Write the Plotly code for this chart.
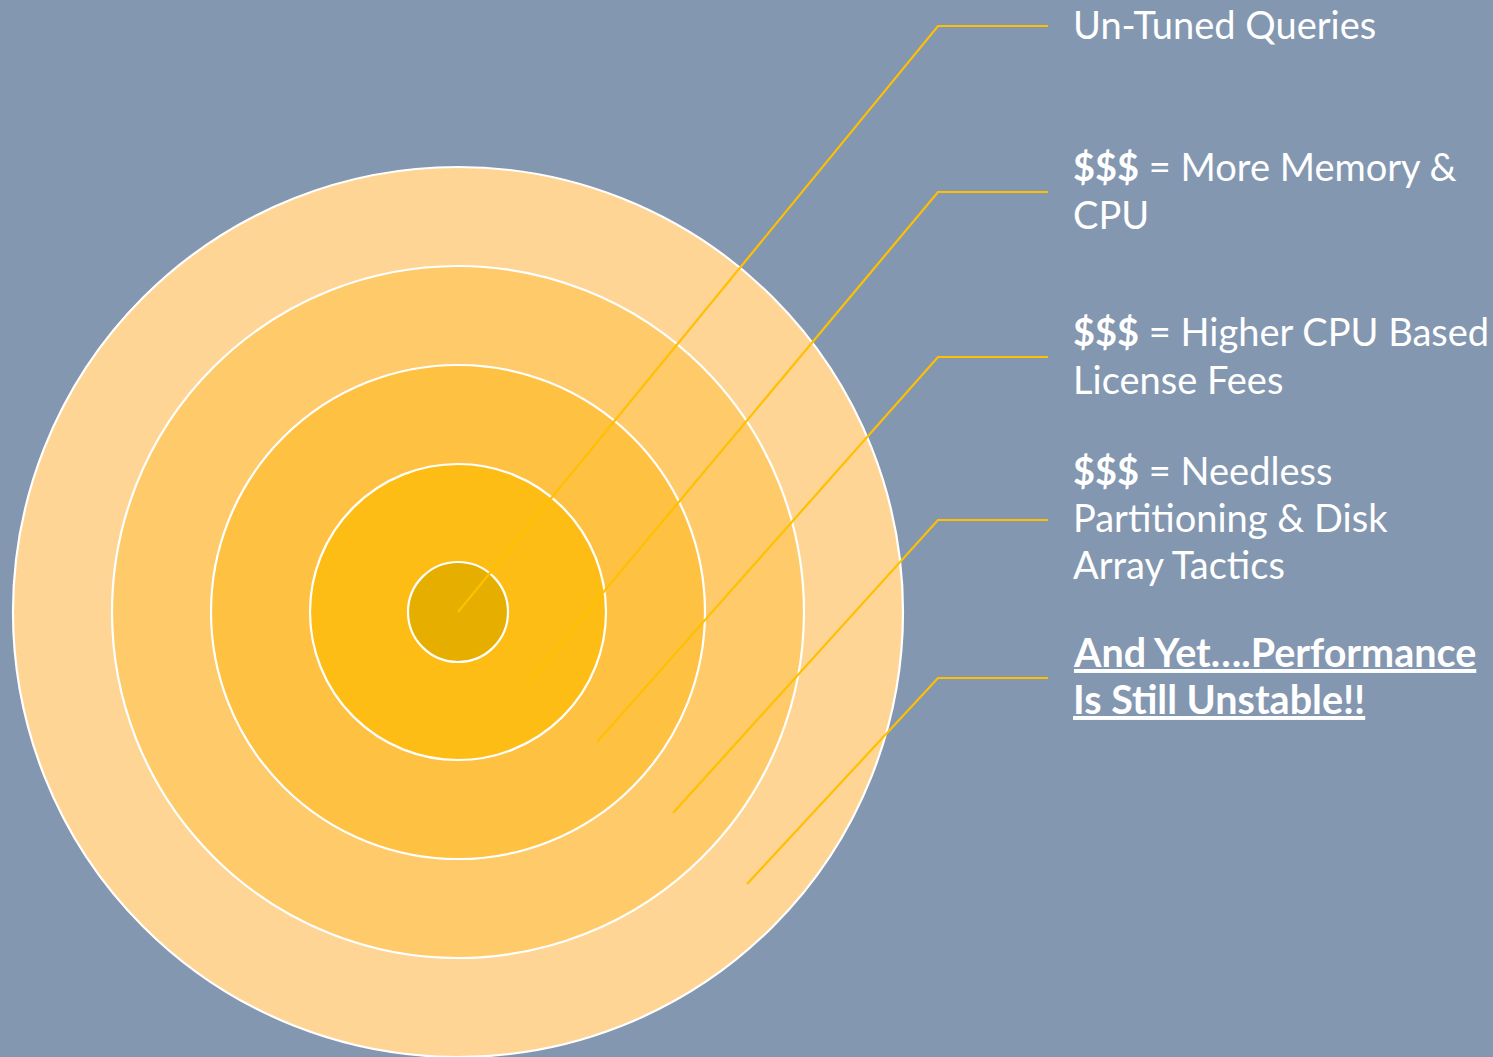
import plotly.graph_objects as go

# ---- data ----
center = [458, 612]
radii = [445, 346, 247, 148, 50]
ring_colors = ["#FED594", "#FECA6A", "#FEC142", "#FEBD14", "#E6AF00"]

label_y = [26, 192, 357, 520, 678]          # leader horizontal level
bend_x = 938
label_x = 1048
end_x = [458, 530, 597, 673, 747]
end_y = [612, 680, 742, 813, 884]

text_lines = [
    ["Un-Tuned Queries"],
    ["<b>$$$</b> = More Memory &", "CPU"],
    ["<b>$$$</b> = Higher CPU Based", "License Fees"],
    ["<b>$$$</b> = Needless", "Partitioning & Disk", "Array Tactics"],
    ["<u><b>And Yet….Performance</b></u>", "<u><b>Is Still Unstable!!</b></u>"],
]
text_line_y = [
    [24],
    [166, 214],
    [331, 379],
    [470, 517, 564],
    [651, 698],
]
text_x = 1071

BG = "#8497B0"
LINE = "#FFC000"
FONT = "Lato"
FSIZE = 38
FSIZE_BOLD = 39.5

fig = go.Figure()

shapes = []
for r, c in zip(radii, ring_colors):
    shapes.append(dict(type="circle", xref="x", yref="y",
                       x0=center[0] - r, x1=center[0] + r,
                       y0=center[1] - r, y1=center[1] + r,
                       fillcolor=c, line=dict(color="white", width=2.2),
                       layer="below"))

for ly, ex, ey in zip(label_y, end_x, end_y):
    fig.add_trace(go.Scatter(x=[label_x, bend_x, ex], y=[ly, ly, ey],
                             mode="lines", line=dict(color=LINE, width=2.2),
                             hoverinfo="skip", showlegend=False))

annotations = []
for i, (lines, ys) in enumerate(zip(text_lines, text_line_y)):
    for t, y in zip(lines, ys):
        annotations.append(dict(x=text_x, y=y, xref="x", yref="y", text=t,
                                showarrow=False, xanchor="left", yanchor="middle",
                                font=dict(family=FONT,
                                          size=FSIZE_BOLD if i == 4 else FSIZE,
                                          color="white")))

fig.update_layout(
    width=1493, height=1057,
    margin=dict(l=0, r=0, t=0, b=0),
    paper_bgcolor=BG, plot_bgcolor=BG,
    xaxis=dict(range=[0, 1493], visible=False, fixedrange=True),
    yaxis=dict(range=[1057, 0], visible=False, fixedrange=True),
    shapes=shapes, annotations=annotations,
    showlegend=False,
)

fig.write_html("out.html")
